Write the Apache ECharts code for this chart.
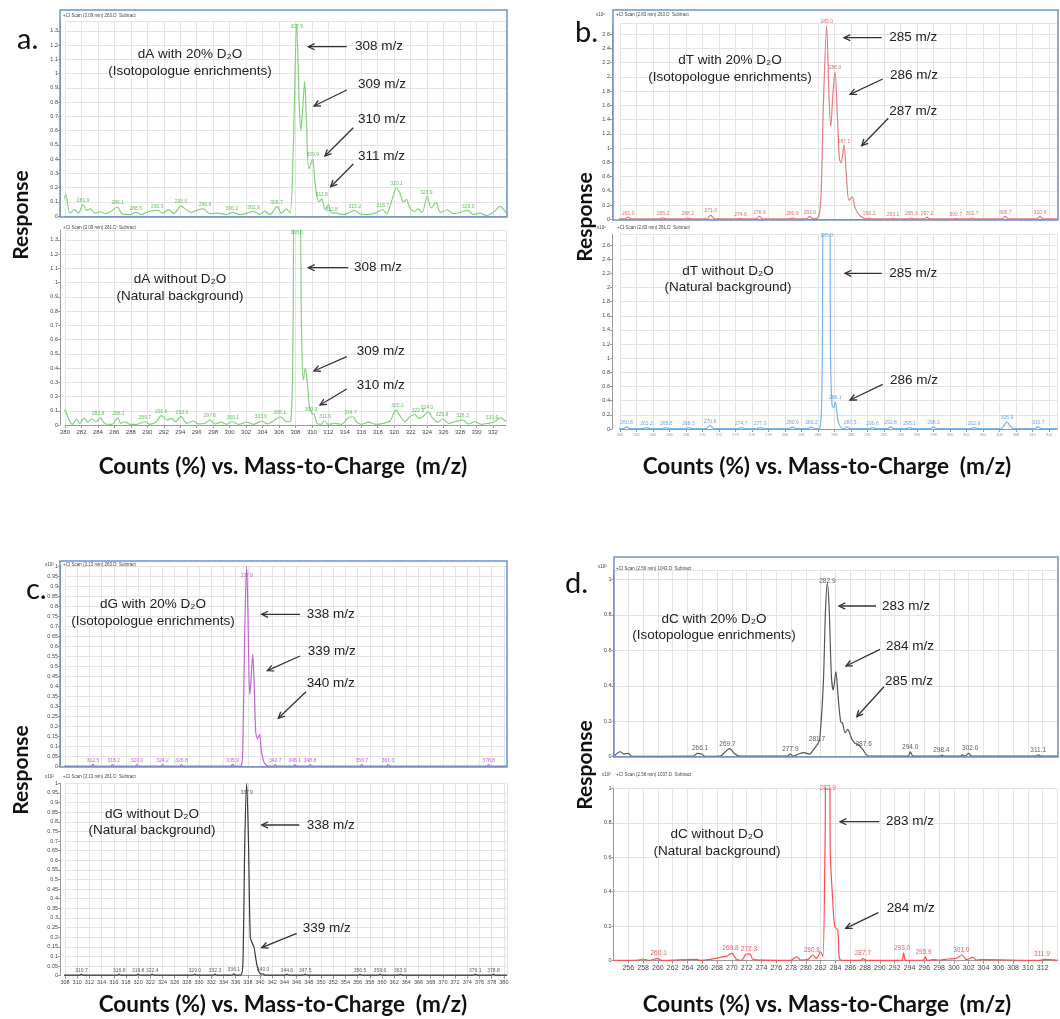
<!DOCTYPE html>
<html><head><meta charset="utf-8">
<script src="https://cdn.jsdelivr.net/npm/echarts@6.0.0/dist/echarts.min.js"></script>
<style>html,body{margin:0;padding:0;background:#fff}#c{width:1060px;height:1019px}</style>
</head><body><div id="c"></div>
<script>
// ---------------- DATA (m/z, response) ----------------
const dA_with = [[279.45,0.01],[280.1,0.15],[280.6,0.02],[281.2,0.045],[281.6,0.02],[282.2,0.08],[282.6,0.04],[283.1,0.05],[283.6,0.02],[284.3,0.03],[284.9,0.016],[285.5,0.03],[286.4,0.063],[286.9,0.016],[287.9,0.01],[288.6,0.026],[289.3,0.01],[290.1,0.03],[291.2,0.04],[291.9,0.02],[292.6,0.045],[293.2,0.016],[294.1,0.07],[294.8,0.04],[295.4,0.026],[296.0,0.04],[296.8,0.05],[297.6,0.016],[298.6,0.02],[299.6,0.01],[300.3,0.026],[301.3,0.01],[302.1,0.02],[302.9,0.033],[303.7,0.01],[304.3,0.033],[304.9,0.01],[305.8,0.068],[306.3,0.02],[306.9,0.05],[307.35,0.02],[307.75,0.5],[308.15,1.35],[308.45,0.8],[308.65,0.6],[308.88,0.75],[309.12,0.945],[309.35,0.65],[309.6,0.33],[309.85,0.36],[310.1,0.4],[310.35,0.25],[310.6,0.14],[310.9,0.1],[311.2,0.12],[311.6,0.045],[312.0,0.08],[312.4,0.02],[313.0,0.02],[313.8,0.01],[314.6,0.026],[315.2,0.04],[315.8,0.016],[316.7,0.01],[317.7,0.02],[318.6,0.044],[319.1,0.016],[319.5,0.068],[320.3,0.2],[320.7,0.16],[321.1,0.1],[321.5,0.115],[321.9,0.056],[322.5,0.033],[322.9,0.05],[323.4,0.026],[324.0,0.138],[324.5,0.056],[325.1,0.096],[325.6,0.026],[326.4,0.044],[327.2,0.016],[328.0,0.026],[329.0,0.04],[329.6,0.01],[330.4,0.02],[331.2,0.003],[332.2,0.033],[332.9,0.068],[333.6,0.02]];
const dA_with_labels = [[282.2,0.08,'281.9'],[286.4,0.063,'286.1'],[288.6,0.026,'288.5'],[291.2,0.04,'290.6'],[294.1,0.07,'293.0'],[297.0,0.05,'296.8'],[300.3,0.026,'300.1'],[302.9,0.033,'302.9'],[305.7,0.068,'305.7'],[308.15,1.3,'307.9'],[310.1,0.40,'309.9'],[311.2,0.12,'311.8'],[312.4,0.02,'312.8'],[315.2,0.04,'315.2'],[318.6,0.044,'318.7'],[320.3,0.2,'320.1'],[323.9,0.138,'323.9'],[329.0,0.04,'329.0']];

const dA_without = [[279.5,0.005],[280.0,0.105],[280.5,0.035],[280.9,0.005],[281.4,0.042],[281.8,0.012],[282.3,0.047],[282.8,0.02],[283.2,0.042],[283.8,0.023],[284.3,0.05],[284.9,0.007],[285.7,0.005],[286.4,0.05],[286.8,0.012],[287.3,0.023],[287.9,0.005],[288.7,0.005],[289.7,0.023],[290.3,0.005],[291.1,0.023],[291.7,0.066],[292.4,0.035],[293.0,0.047],[293.4,0.023],[294.1,0.06],[294.8,0.012],[295.6,0.028],[296.2,0.007],[297.0,0.012],[297.6,0.035],[298.2,0.007],[299.0,0.02],[299.6,0.005],[300.3,0.023],[301.1,0.005],[302.1,0.02],[302.9,0.005],[303.9,0.028],[304.6,0.007],[305.3,0.028],[306.2,0.058],[306.9,0.023],[307.45,0.03],[307.72,0.7],[307.85,1.6],[308.45,1.6],[308.75,0.63],[308.95,0.316],[309.2,0.40],[309.45,0.30],[309.7,0.13],[310.0,0.082],[310.3,0.075],[310.6,0.012],[311.1,0.005],[311.5,0.028],[312.0,0.005],[312.8,0.012],[313.6,0.005],[314.4,0.05],[315.0,0.058],[315.4,0.023],[316.0,0.005],[316.9,0.02],[317.7,0.005],[318.7,0.012],[319.5,0.028],[320.2,0.105],[320.8,0.058],[321.3,0.023],[321.9,0.058],[322.5,0.075],[323.0,0.047],[323.5,0.058],[324.1,0.094],[324.7,0.047],[325.3,0.02],[325.9,0.042],[326.6,0.012],[327.4,0.023],[328.4,0.035],[329.0,0.007],[329.8,0.023],[330.6,0.005],[331.4,0.012],[332.2,0.023],[332.9,0.05],[333.6,0.023]];
const dA_without_labels = [[284.0,0.05,'283.8'],[286.5,0.05,'286.1'],[289.7,0.023,'289.7'],[291.7,0.066,'291.6'],[294.2,0.06,'293.9'],[297.6,0.035,'297.6'],[300.4,0.023,'300.1'],[303.8,0.028,'303.6'],[306.1,0.058,'306.1'],[308.15,1.32,'308.0'],[309.9,0.082,'309.9'],[311.6,0.028,'311.6'],[314.7,0.058,'314.7'],[320.4,0.105,'320.1'],[322.9,0.075,'322.9'],[324.0,0.094,'324.0'],[325.8,0.042,'325.8'],[328.3,0.035,'328.3'],[331.9,0.023,'331.9']];

const dT_with = [[259.2,0.005],[260.6,0.005],[261.0,0.03],[261.4,0.005],[264.8,0.005],[265.2,0.02],[265.6,0.005],[267.9,0.005],[268.2,0.02],[268.6,0.005],[270.5,0.005],[271.0,0.06],[271.5,0.005],[274.3,0.005],[274.6,0.015],[275.0,0.005],[276.5,0.005],[276.9,0.04],[277.3,0.005],[280.5,0.005],[280.9,0.02],[281.3,0.005],[282.6,0.005],[283.0,0.04],[283.4,0.01],[284.0,0.02],[284.35,0.3],[284.65,1.6],[285.05,2.72],[285.32,1.75],[285.55,1.3],[285.8,1.75],[286.06,2.07],[286.35,1.45],[286.6,0.85],[286.8,0.79],[287.15,1.04],[287.45,0.6],[287.75,0.27],[288.15,0.31],[288.5,0.16],[289.0,0.06],[289.5,0.02],[290.0,0.005],[290.2,0.02],[290.5,0.005],[292.8,0.005],[293.1,0.015],[293.4,0.005],[295.0,0.005],[295.3,0.02],[295.6,0.005],[296.9,0.005],[297.2,0.03],[297.5,0.005],[300.4,0.005],[300.7,0.015],[301.0,0.005],[302.4,0.005],[302.7,0.02],[303.0,0.005],[306.3,0.005],[306.7,0.04],[307.1,0.005],[310.5,0.005],[310.9,0.04],[311.3,0.005],[313.0,0.005]];
const dT_with_labels = [[261.0,0.03,'261.0'],[265.2,0.02,'265.2'],[268.2,0.02,'268.2'],[271.0,0.06,'271.0'],[274.6,0.015,'274.6'],[276.9,0.04,'276.9'],[280.9,0.02,'280.9'],[283.0,0.04,'283.0'],[285.05,2.72,'285.0'],[286.06,2.07,'286.0'],[287.15,1.04,'287.1'],[290.2,0.02,'290.2'],[293.1,0.015,'293.1'],[295.3,0.02,'295.3'],[297.2,0.03,'297.2'],[300.7,0.015,'300.7'],[302.7,0.02,'302.7'],[306.7,0.04,'306.7'],[310.9,0.04,'310.9']];

const dT_without = [[259.2,0.005],[260.4,0.005],[260.8,0.03],[261.2,0.005],[262.8,0.005],[263.2,0.02],[263.6,0.005],[265.2,0.005],[265.6,0.02],[266.0,0.005],[267.9,0.005],[268.3,0.02],[268.7,0.005],[270.4,0.005],[270.9,0.05],[271.4,0.005],[274.3,0.005],[274.7,0.02],[275.1,0.005],[276.6,0.005],[277.0,0.02],[277.4,0.005],[280.5,0.005],[280.9,0.03],[281.3,0.005],[282.8,0.005],[283.2,0.03],[283.6,0.005],[284.25,0.02],[284.5,0.8],[284.7,3.3],[285.4,3.3],[285.52,1.0],[285.7,0.34],[285.9,0.3],[286.1,0.38],[286.45,0.1],[286.8,0.02],[287.2,0.005],[287.5,0.03],[287.9,0.005],[290.2,0.005],[290.6,0.02],[291.0,0.005],[292.4,0.005],[292.8,0.03],[293.2,0.005],[294.7,0.005],[295.1,0.02],[295.5,0.005],[297.6,0.005],[298.0,0.03],[298.4,0.005],[302.5,0.005],[302.9,0.02],[303.3,0.005],[306.2,0.005],[306.6,0.06],[306.9,0.1],[307.3,0.04],[307.7,0.005],[310.3,0.005],[310.7,0.03],[311.1,0.005],[313.0,0.005]];
const dT_without_labels = [[260.8,0.03,'260.8'],[263.2,0.02,'263.2'],[265.6,0.02,'265.6'],[268.3,0.02,'268.3'],[270.9,0.05,'270.9'],[274.7,0.02,'274.7'],[277.0,0.02,'277.0'],[280.9,0.03,'280.9'],[283.2,0.03,'283.2'],[285.05,2.68,'285.0'],[286.1,0.38,'286.1'],[287.9,0.03,'287.5'],[290.6,0.02,'290.6'],[292.8,0.03,'292.8'],[295.1,0.02,'295.1'],[298.0,0.03,'298.0'],[302.9,0.02,'302.9'],[306.9,0.1,'306.9'],[310.7,0.03,'310.7']];

const dG_with = [[307.2,0.003],[312.3,0.003],[312.6,0.012],[312.9,0.003],[315.5,0.003],[315.8,0.01],[316.1,0.003],[319.5,0.003],[319.8,0.01],[320.1,0.003],[323.7,0.003],[324.0,0.01],[324.3,0.003],[326.8,0.003],[327.1,0.01],[327.4,0.003],[335.2,0.003],[335.5,0.012],[335.8,0.003],[336.9,0.005],[337.2,0.15],[337.5,0.7],[337.8,1.0],[338.05,0.7],[338.3,0.36],[338.5,0.42],[338.8,0.56],[339.05,0.4],[339.3,0.17],[339.6,0.14],[339.9,0.16],[340.25,0.07],[340.7,0.02],[341.5,0.003],[342.2,0.003],[342.5,0.01],[342.8,0.003],[345.4,0.003],[345.7,0.01],[346.0,0.003],[347.9,0.003],[348.2,0.01],[348.5,0.003],[356.4,0.003],[356.7,0.01],[357.0,0.003],[360.7,0.003],[361.0,0.01],[361.3,0.003],[377.2,0.003],[377.5,0.01],[377.8,0.003],[380.5,0.003]];
const dG_with_labels = [[312.6,0.012,'312.5'],[316.0,0.01,'316.2'],[319.8,0.01,'320.0'],[324.0,0.01,'324.2'],[327.1,0.01,'326.8'],[335.5,0.012,'335.9'],[337.8,0.93,'337.9'],[342.5,0.01,'342.7'],[345.7,0.01,'346.1'],[348.2,0.01,'348.8'],[356.7,0.01,'356.7'],[361.0,0.01,'361.3'],[377.5,0.01,'378.8']];

const dG_without = [[307.2,0.003],[310.4,0.003],[310.7,0.008],[311.0,0.003],[316.6,0.003],[316.9,0.008],[317.2,0.003],[319.7,0.003],[320.0,0.008],[320.3,0.003],[322.0,0.003],[322.3,0.008],[322.6,0.003],[329.0,0.003],[329.3,0.008],[329.6,0.003],[332.3,0.003],[332.6,0.008],[332.9,0.003],[335.4,0.003],[335.7,0.01],[336.0,0.003],[336.9,0.005],[337.2,0.08],[337.5,0.7],[337.8,1.0],[338.1,0.7],[338.4,0.2],[338.7,0.17],[339.0,0.15],[339.3,0.09],[339.7,0.03],[340.2,0.008],[340.5,0.01],[340.8,0.003],[344.1,0.003],[344.4,0.008],[344.7,0.003],[347.1,0.003],[347.4,0.008],[347.7,0.003],[356.1,0.003],[356.4,0.008],[356.7,0.003],[359.4,0.003],[359.7,0.008],[360.0,0.003],[362.7,0.003],[363.0,0.008],[363.3,0.003],[375.0,0.003],[375.3,0.008],[375.6,0.003],[378.0,0.003],[378.3,0.008],[378.6,0.003],[380.5,0.003]];
const dG_without_labels = [[310.7,0.008,'310.7'],[316.9,0.008,'316.8'],[320.0,0.008,'319.8'],[322.3,0.008,'322.4'],[329.3,0.008,'329.0'],[332.6,0.008,'332.3'],[335.7,0.01,'336.1'],[337.8,0.93,'337.9'],[340.5,0.01,'340.0'],[344.4,0.008,'344.6'],[347.4,0.008,'347.5'],[356.4,0.008,'356.5'],[359.7,0.008,'359.6'],[363.0,0.008,'363.0'],[375.3,0.008,'376.1'],[378.3,0.008,'378.8']];

const dC_with = [[254.1,0.004],[254.9,0.028],[255.4,0.015],[256.0,0.019],[256.5,0.002],[264.8,0.003],[265.3,0.019],[265.9,0.015],[266.4,0.002],[268.4,0.003],[269.1,0.028],[269.7,0.045],[270.4,0.015],[271.1,0.003],[277.5,0.003],[277.9,0.015],[278.3,0.003],[279.0,0.015],[279.7,0.023],[280.5,0.015],[281.0,0.038],[281.5,0.066],[281.85,0.094],[282.35,0.41],[282.65,0.83],[282.9,0.98],[283.15,0.83],[283.45,0.45],[283.7,0.376],[284.05,0.48],[284.35,0.34],[284.7,0.197],[284.95,0.19],[285.3,0.135],[285.65,0.154],[286.2,0.1],[286.65,0.075],[287.0,0.07],[287.7,0.04],[288.1,0.015],[288.5,0.003],[293.8,0.003],[294.1,0.028],[294.5,0.003],[298.1,0.003],[298.4,0.009],[298.7,0.003],[300.9,0.003],[301.1,0.011],[301.5,0.003],[302.0,0.019],[302.4,0.003],[311.1,0.003],[311.4,0.011],[311.8,0.003],[314.0,0.003]];
const dC_with_labels = [[265.7,0.019,'266.1'],[269.4,0.045,'269.7'],[277.9,0.015,'277.9'],[281.5,0.07,'281.7'],[282.9,0.96,'282.9'],[287.8,0.04,'287.6'],[294.1,0.028,'294.0'],[298.3,0.009,'298.4'],[302.2,0.019,'302.0'],[311.4,0.011,'311.1']];

const dC_without = [[254.1,0.002],[257.4,0.004],[258.0,0.01],[258.7,0.002],[260.0,0.012],[260.5,0.002],[265.2,0.008],[265.7,0.002],[269.3,0.027],[270.0,0.043],[270.6,0.008],[271.3,0.002],[271.9,0.037],[272.4,0.04],[272.9,0.006],[277.9,0.002],[278.8,0.023],[279.3,0.004],[280.3,0.008],[280.9,0.033],[281.4,0.014],[282.0,0.052],[282.3,0.023],[282.6,0.72],[282.75,1.2],[283.2,1.2],[283.3,0.62],[283.6,0.37],[283.9,0.197],[284.3,0.178],[284.5,0.023],[284.8,0.002],[287.4,0.002],[287.7,0.012],[288.2,0.002],[292.9,0.002],[293.2,0.046],[293.5,0.002],[295.9,0.004],[296.1,0.023],[296.4,0.002],[297.2,0.006],[298.1,0.004],[299.2,0.01],[300.1,0.012],[300.5,0.017],[301.1,0.033],[301.7,0.006],[302.6,0.019],[303.0,0.004],[303.7,0.006],[311.6,0.002],[312.3,0.008],[314.0,0.002]];
const dC_without_labels = [[260.1,0.012,'260.1'],[269.8,0.043,'269.8'],[272.3,0.04,'272.3'],[280.8,0.033,'280.8'],[282.95,0.97,'282.9'],[287.7,0.012,'287.7'],[293.0,0.046,'293.0'],[295.9,0.023,'295.9'],[301.0,0.033,'301.0'],[311.9,0.008,'311.9']];

// texts
const panelLetters = ['a.', 'b.', 'c.', 'd.'];
const xTitle = 'Counts (%) vs. Mass-to-Charge  (m/z)';
const yTitle = 'Response';
const headers = ['+CI Scan (3.09 min) 263.D  Subtract','+CI Scan (3.09 min) 261.D  Subtract','+CI Scan (2.83 min) 263.D  Subtract','+CI Scan (2.83 min) 261.D  Subtract','+CI Scan (3.13 min) 263.D  Subtract','+CI Scan (3.13 min) 261.D  Subtract','+CI Scan (2.56 min) 1043.D  Subtract','+CI Scan (2.56 min) 1037.D  Subtract'];

// ---------------- CHART ----------------
const FONT = '"Liberation Sans", Arial, sans-serif';
const CAP = 'Lato, "Open Sans", sans-serif';

const panels = [
  {data:dA_with, labels:dA_with_labels, line:'#86cf7f', lab:'#3fae3a', grid:{left:65,top:20.8,width:441.1,height:195.2}, x:[280,333.6], xLab:0, y:[1.37,0.1], yOff:5, yMaxLab:false},
  {data:dA_without, labels:dA_without_labels, line:'#86cf7f', lab:'#3fae3a', grid:{left:65,top:230,width:441.1,height:195}, x:[280,333.6], xLab:6, y:[1.37,0.1], yOff:5, yMaxLab:false},
  {data:dT_with, labels:dT_with_labels, line:'#e27f7f', lab:'#d04a4a', grid:{left:620,top:23.4,width:437.25,height:195.9}, x:[260,313], xLab:0, y:[2.75,0.2], yOff:8, yMaxLab:false},
  {data:dT_without, labels:dT_without_labels, line:'#74b5ea', lab:'#3d8fd6', grid:{left:620,top:234.4,width:437.25,height:194.6}, x:[260,313], xLab:4, xLabColor:'#999', y:[2.75,0.2], yOff:8, yMaxLab:false},
  {data:dG_with, labels:dG_with_labels, line:'#c462d4', lab:'#b03cc4', grid:{left:65,top:566,width:441.9,height:200.7}, x:[308,380.5], xLab:0, y:[1,0.05], yOff:5, yMaxLab:true},
  {data:dG_without, labels:dG_without_labels, line:'#3a3a3a', lab:'#333', grid:{left:65,top:783.3,width:441.9,height:192.4}, x:[308,380.5], xLab:5.5, y:[1,0.05], yOff:5, yMaxLab:true},
  {data:dC_with, labels:dC_with_labels, line:'#555', lab:'#333', labSize:6.5, grid:{left:613.5,top:570.5,width:444,height:186.2}, x:[254,314], xLab:0, y:[1.05,0.2], yOff:0, yMaxLab:false},
  {data:dC_without, labels:dC_without_labels, line:'#ff4d4d', lab:'#f03030', labSize:6.5, grid:{left:613.5,top:788.3,width:444,height:172.4}, x:[254,314], xLab:7, xMinLab:false, y:[1,0.2], yOff:0, yMaxLab:true}
];

const grids=[], xAxes=[], yAxes=[], series=[];
panels.forEach((p,i)=>{
  grids.push(Object.assign({containLabel:false, outerBoundsMode:'none', show:false}, p.grid));
  xAxes.push({type:'value', gridIndex:i, min:p.x[0], max:p.x[1], interval:2,
    axisLine:{show:true, onZero:false, lineStyle:{color:'#9a9a9a', width:1}},
    axisTick:{show:p.xLab>0, length:3, lineStyle:{color:'#999'}},
    axisLabel:{show:p.xLab>0, fontSize:p.xLab||6, color:p.xLabColor||'#444', margin:4, showMaxLabel:false, showMinLabel:p.xMinLab!==false, fontFamily:FONT},
    splitLine:{show:true, lineStyle:{color:'#e4e4e4', width:1}}});
  yAxes.push({type:'value', gridIndex:i, min:0, max:p.y[0], interval:p.y[1], offset:p.yOff,
    axisLine:{show:true, lineStyle:{color:'#9a9a9a'}},
    axisTick:{show:true, length:2, lineStyle:{color:'#999'}},
    axisLabel:{fontSize:5.5, color:'#444', margin:2, showMaxLabel:p.yMaxLab, fontFamily:FONT},
    splitLine:{show:true, lineStyle:{color:'#e4e4e4'}}});
  series.push({type:'line', xAxisIndex:i, yAxisIndex:i, data:p.data, symbol:'none', showSymbol:false, smooth:0.3, clip:true,
    lineStyle:{color:p.line, width:1.2}, animation:false, silent:true, z:3});
  series.push({type:'scatter', xAxisIndex:i, yAxisIndex:i, data:p.labels.map(d=>({value:[d[0],d[1]], name:d[2]})),
    symbolSize:1, itemStyle:{color:'rgba(0,0,0,0)'}, clip:false,
    label:{show:true, position:'top', distance:1, formatter:'{b}', fontSize:p.labSize||5, color:p.lab, fontFamily:FONT},
    animation:false, silent:true, z:4});
});

// ---------------- annotations ----------------
const G = [];
function text(x,y,s,o){ G.push({type:'text', x:x, y:y, z:10, style:Object.assign({text:s, font:'13.5px '+FONT, fill:'#222', textAlign:'left', textVerticalAlign:'middle'}, o||{})}); }
function ctext(x,y,s){ text(x,y,s,{textAlign:'center'}); }
function arrow(x1,y1,x2,y2){
  const a=Math.atan2(y2-y1,x2-x1), L=7, W=0.45;
  G.push({type:'line', z:10, shape:{x1:x1,y1:y1,x2:x2,y2:y2}, style:{stroke:'#333', lineWidth:1.3}});
  G.push({type:'polyline', z:10, shape:{points:[[x2-L*Math.cos(a-W),y2-L*Math.sin(a-W)],[x2,y2],[x2-L*Math.cos(a+W),y2-L*Math.sin(a+W)]]}, style:{stroke:'#333', lineWidth:1.3, fill:null}});
}
function box(x,y,w,h){ G.push({type:'rect', z:9, shape:{x:x,y:y,width:w,height:h}, style:{fill:null, stroke:'#6d93cf', lineWidth:1.5}}); }
function small(x,y,s){ G.push({type:'text', x:x, y:y, z:10, style:{text:s, font:'4.5px '+FONT, fill:'#444', textAlign:'left', textVerticalAlign:'middle'}}); }

box(60,10,447,207); box(613,10,445,210); box(60,561,447,206); box(614,557,444,200);

// headers
small(63,16,headers[0]); small(63,228,headers[1]);
small(616,15,headers[2]); small(617,228,headers[3]); small(596,15,'x10\u00b9'); small(597,228,'x10\u00b9');
small(63,565,headers[4]); small(63,777,headers[5]); small(45,565,'x10\u00b2'); small(45,777,'x10\u00b2');
small(616,569,headers[6]); small(616,775,headers[7]); small(598,567,'x10\u00b2'); small(602,775,'x10\u00b2');

// panel a
ctext(190,54,'dA with 20% D\u2082O'); ctext(190,71,'(Isotopologue enrichments)');
text(355,46.7,'308 m/z'); arrow(346.7,46.7,308.3,46.7);
text(358,84.3,'309 m/z'); arrow(346.7,90,314,106);
text(358,119,'310 m/z'); arrow(353.3,127.7,325,156);
text(358,156.7,'311 m/z'); arrow(353.3,164,330.7,186.7);
ctext(180,279,'dA without D\u2082O'); ctext(180,296,'(Natural background)');
text(354,267.7,'308 m/z'); arrow(348.3,267.7,308.3,267.7);
text(356.7,351.7,'309 m/z'); arrow(346.7,356.7,314,371);
text(356.7,385,'310 m/z'); arrow(346.7,389,320,405);
// panel b
ctext(730,60,'dT with 20% D\u2082O'); ctext(730,77,'(Isotopologue enrichments)');
text(889.3,37.7,'285 m/z'); arrow(881.7,37.7,844,37.7);
text(890,75.7,'286 m/z'); arrow(882.7,79,850,94.3);
text(889.3,111,'287 m/z'); arrow(888.3,118.3,861.7,145.7);
ctext(728,271,'dT without D\u2082O'); ctext(728,287,'(Natural background)');
text(889.3,273.3,'285 m/z'); arrow(881.7,273.3,845,273.3);
text(890,380,'286 m/z'); arrow(882.7,384.3,850,400);
// panel c
ctext(153,604,'dG with 20% D\u2082O'); ctext(153,621,'(Isotopologue enrichments)');
text(306.7,614.3,'338 m/z'); arrow(300,614.3,261.7,614.3);
text(307.7,651.7,'339 m/z'); arrow(300,656,267.3,670.7);
text(306.7,683.3,'340 m/z'); arrow(306,691.7,278.3,718.3);
ctext(152,814,'dG without D\u2082O'); ctext(152,830,'(Natural background)');
text(306.7,825,'338 m/z'); arrow(299.3,825,261.7,825);
text(302.7,928.3,'339 m/z'); arrow(296.7,933.3,261.7,947.7);
// panel d
ctext(714,619,'dC with 20% D\u2082O'); ctext(714,635,'(Isotopologue enrichments)');
text(882,606,'283 m/z'); arrow(876,606,839,606);
text(886,646.7,'284 m/z'); arrow(880,649.3,846,666);
text(885,681,'285 m/z'); arrow(884,686.7,856.7,716.7);
ctext(717,834,'dC without D\u2082O'); ctext(717,851,'(Natural background)');
text(886,821.7,'283 m/z'); arrow(879.3,821.7,840,821.7);
text(886.7,908.3,'284 m/z'); arrow(878.3,912.7,845.7,928.3);

// letters
const letterPos = [[17,54],[575,47],[26,604],[565,598]];
letterPos.forEach((p,i)=>G.push({type:'text', x:p[0], y:p[1], z:10, style:{text:panelLetters[i], font:'29px '+CAP, fill:'#111', textAlign:'left', textVerticalAlign:'bottom'}}));
// Response
[[21,215],[585,217],[21,770],[585,765]].forEach(p=>G.push({type:'text', x:p[0], y:p[1], rotation:Math.PI/2, z:10, style:{text:yTitle, font:'bold 21px '+CAP, fill:'#111', textAlign:'center', textVerticalAlign:'middle'}}));
// captions
[[283,467],[827,467],[283,1005],[827,1005]].forEach(p=>G.push({type:'text', x:p[0], y:p[1], z:10, style:{text:xTitle, font:'bold 22.5px '+CAP, fill:'#111', textAlign:'center', textVerticalAlign:'middle'}}));

const chart = echarts.init(document.getElementById('c'), null, {renderer:'canvas'});
chart.setOption({animation:false, backgroundColor:'#fff', grid:grids, xAxis:xAxes, yAxis:yAxes, series:series, graphic:{elements:G}});
</script>
</body></html>
